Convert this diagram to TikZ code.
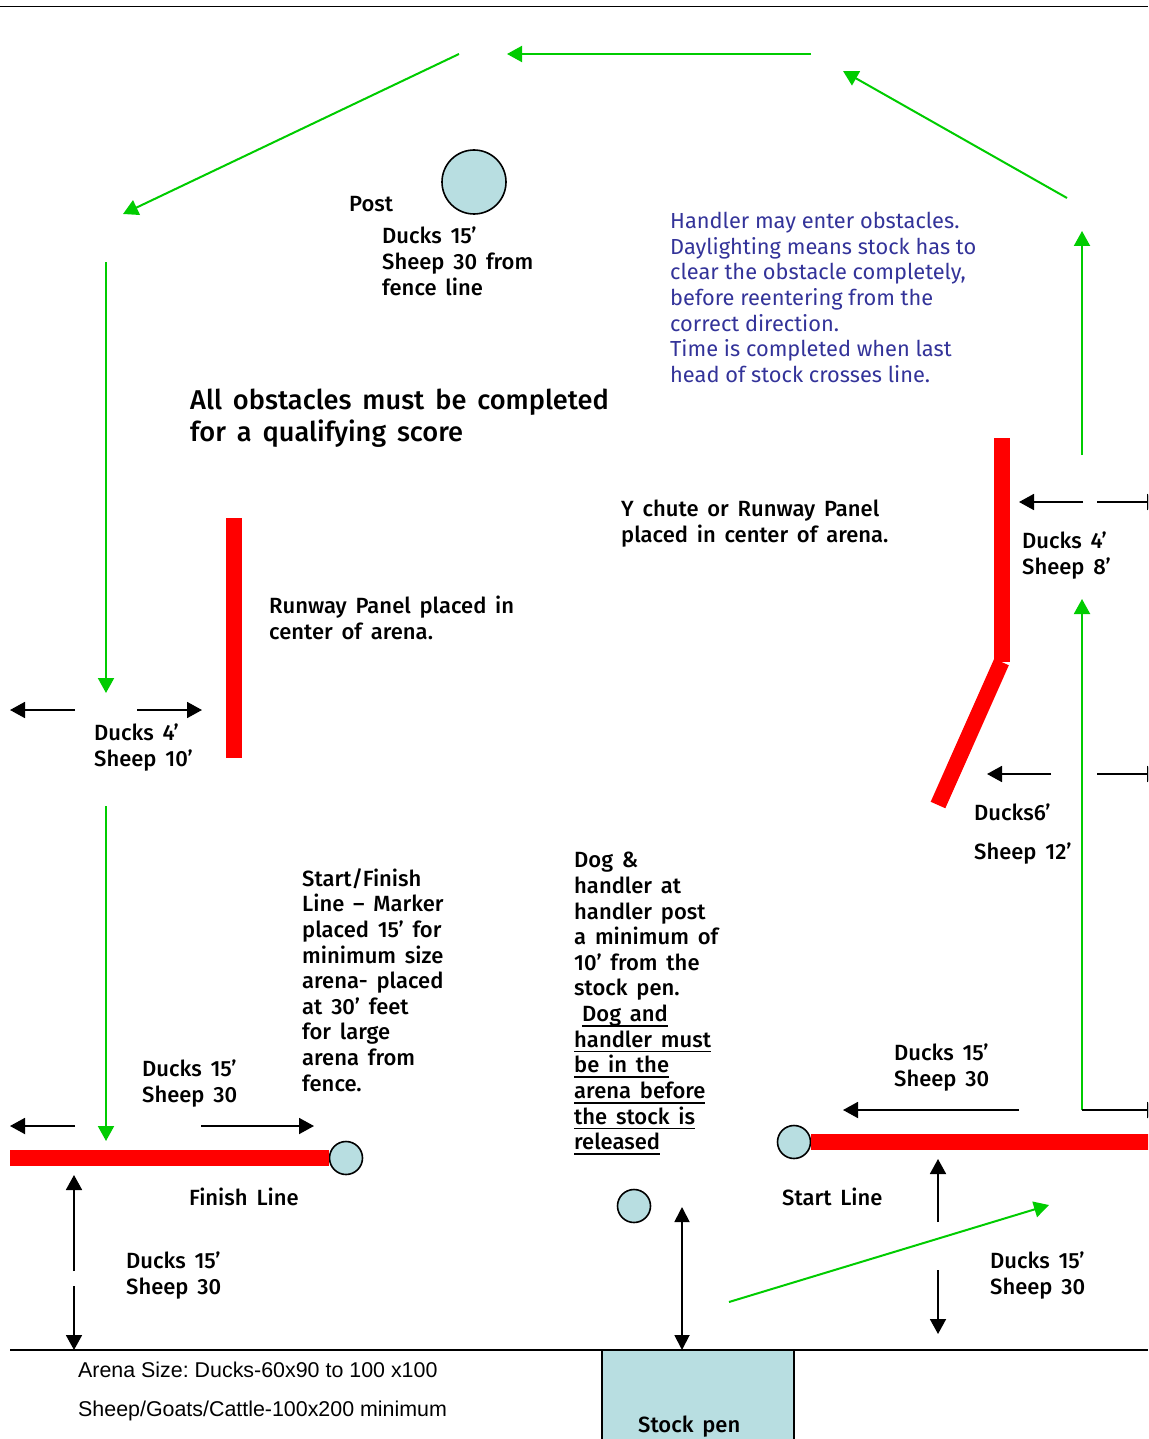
\documentclass[tikz,border=0pt]{standalone}
\usepackage{fontspec}
\setmainfont{Fira Sans}[UprightFont={* Medium},WordSpace=1.6]
\newfontfamily\bluefont{Fira Sans}
\newfontfamily\arialfont{Liberation Sans}
\usetikzlibrary{arrows.meta, positioning}
\definecolor{pondblue}{HTML}{B8DEE1}
\definecolor{lapgreen}{HTML}{00CC00}
\definecolor{notesblue}{HTML}{333399}
\newlength{\rulelen}
\newcommand{\ruleline}[1]{\settowidth{\rulelen}{#1}#1\hspace{-\rulelen}\rule[-5.2pt]{\rulelen}{1.8pt}}
\tikzset{
  greenarrow/.style={draw=lapgreen, line width=2pt, -{Triangle[length=15pt,width=16pt]}},
  blackarrow/.style={draw=black, line width=1.8pt, -{Triangle[length=15pt,width=16pt]}},
  twoarrow/.style={draw=black, line width=1.8pt, {Triangle[length=15pt,width=15pt]}-{Triangle[length=15pt,width=15pt]}},
  redbar/.style={draw=red, line width=16pt},
  markerpost/.style={circle, draw=black, line width=1.6pt, fill=pondblue, inner sep=0pt},
  txt/.style={anchor=north west, inner sep=0pt, align=left, font=\fontsize{22}{25.65}\selectfont},
  bigtxt/.style={anchor=north west, inner sep=0pt, align=left, font=\fontsize{27.2}{32}\selectfont},
  bluetxt/.style={anchor=north west, inner sep=0pt, align=left, text=notesblue, font=\bluefont\fontsize{21.8}{25.65}\selectfont},
  sizetxt/.style={anchor=north west, inner sep=0pt, align=left, font=\arialfont\frenchspacing\fontsize{21.4}{39}\selectfont}
}
\begin{document}
\begin{tikzpicture}[x=1pt, y=-1pt]
  \clip (0,0) rectangle (1148,1439);
  % fences
  \coordinate (topleft) at (0,6.5);
  \coordinate (topright) at (1148,6.5);
  \draw[line width=1pt] (topleft) -- (topright);
  \node[rectangle, draw=black, line width=1.8pt, outer sep=0pt, fill=pondblue, minimum width=192pt, minimum height=110pt, anchor=north west] (stockpen) at (602,1350) {};
  \coordinate (fenceleft) at (10,1350);
  \coordinate (fenceright) at (1148,1350);
  \draw[line width=1.8pt] (fenceleft) -- (fenceright);

  % posts
  \node[markerpost, minimum size=64pt] (centerpost) at (474,182) {};
  \node[markerpost, minimum size=33pt] (finishpost) at (346,1158) {};
  \node[markerpost, minimum size=33pt] (startpost) at (794,1142) {};
  \node[markerpost, minimum size=33pt] (handlerpost) at (634,1206) {};

  % panels
  \coordinate (finishend) at (10,1158);
  \coordinate (startend) at (1160,1142);
  \draw[redbar] (finishend) -- (finishpost);
  \draw[redbar] (startpost) -- (startend);
  \coordinate (runwaytop) at (234,518);
  \coordinate (runwaybot) at (234,758);
  \draw[redbar] (runwaytop) -- (runwaybot);
  \coordinate (chutetop) at (1002,438);
  \coordinate (chutemid) at (1002,662);
  \coordinate (chutebend) at (1001.5,662);
  \coordinate (chutebot) at (938,805);
  \draw[redbar] (chutetop) -- (chutemid);
  \draw[redbar] (chutebend) -- (chutebot);

  % course
  \coordinate (g1a) at (729,1302);  \coordinate (g1b) at (1049,1205);
  \coordinate (g2a) at (1082,1110); \coordinate (g2b) at (1082,599);
  \coordinate (g3a) at (1082,455);  \coordinate (g3b) at (1082,231);
  \coordinate (g4a) at (1067,198);  \coordinate (g4b) at (843,71);
  \coordinate (g5a) at (811,54);    \coordinate (g5b) at (507,54);
  \coordinate (g6a) at (459,54);    \coordinate (g6b) at (123,214);
  \coordinate (g7a) at (106,262);   \coordinate (g7b) at (106,693);
  \coordinate (g8a) at (106,806);   \coordinate (g8b) at (106,1141);
  \foreach \i in {1,...,8}
    \draw[greenarrow] (g\i a) -- (g\i b);

  % distances
  \coordinate (b1a) at (75,710);    \coordinate (b1b) at (10,710);
  \coordinate (b2a) at (137,710);   \coordinate (b2b) at (202,710);
  \coordinate (b3a) at (1083,502);  \coordinate (b3b) at (1019,502);
  \coordinate (b4a) at (1097,502);  \coordinate (b4b) at (1162,502);
  \coordinate (b5a) at (1051,774);  \coordinate (b5b) at (987,774);
  \coordinate (b6a) at (1097,774);  \coordinate (b6b) at (1162,774);
  \coordinate (b7a) at (75,1126);   \coordinate (b7b) at (10,1126);
  \coordinate (b8a) at (201,1126);  \coordinate (b8b) at (314,1126);
  \coordinate (b9a) at (1019,1110); \coordinate (b9b) at (843,1110);
  \coordinate (b10a) at (1082,1110); \coordinate (b10b) at (1162,1110);
  \coordinate (b11a) at (74,1271);  \coordinate (b11b) at (74,1175);
  \coordinate (b12a) at (74,1286);  \coordinate (b12b) at (74,1350);
  \coordinate (b13a) at (938,1222); \coordinate (b13b) at (938,1159);
  \coordinate (b14a) at (938,1270); \coordinate (b14b) at (938,1334);
  \foreach \i in {1,...,14}
    \draw[blackarrow] (b\i a) -- (b\i b);
  \coordinate (penup) at (682,1207);
  \coordinate (pendown) at (682,1350);
  \draw[twoarrow] (penup) -- (pendown);

  % labels
  \node[txt] (postlabel) at (349,196) {Post};
  \node[txt] (postdist) at (382,227) {Ducks 15’\\Sheep 30 from\\fence line};
  \node[bigtxt] (qualify) at (190,389) {All obstacles must be completed\\for a qualifying score};
  \node[bluetxt] (handlernote) at (670,212) {Handler may enter obstacles.\\Daylighting means stock has to\\clear the obstacle completely,\\before reentering from the\\correct direction.\\Time is completed when last\\head of stock crosses line.};
  \node[txt] (chutelabel) at (621,500) {Y chute or Runway Panel\\placed in center of arena.};
  \node[txt] (runwaylabel) at (269,596) {Runway Panel placed in\\center of arena.};
  \node[txt] (chutedist) at (1022,532) {Ducks 4’\\Sheep 8’};
  \node[txt] (runwaydist) at (94,724) {Ducks 4’\\Sheep 10’};
  \node[txt] (bendduck) at (974,804) {Ducks6’};
  \node[txt] (bendsheep) at (974,843) {Sheep 12’};
  \node[txt] (startfinish) at (302,868) {Start/Finish\\Line – Marker\\placed 15’ for\\minimum size\\arena- placed\\at 30’ feet\\for large\\arena from\\fence.};
  \node[txt] (dognote) at (574,852) {Dog \&\\handler at\\handler post\\a minimum of\\10’ from the\\stock pen.\\\hspace*{8pt}\ruleline{Dog and}\\\ruleline{handler must}\\\ruleline{be in the}\\\ruleline{arena before}\\\ruleline{the stock is}\\\ruleline{released}};
  \node[txt] (finishdist) at (142,1060) {Ducks 15’\\Sheep 30};
  \node[txt] (startdist) at (894,1044) {Ducks 15’\\Sheep 30};
  \node[txt] (fencedistl) at (126,1252) {Ducks 15’\\Sheep 30};
  \node[txt] (fencedistr) at (990,1252) {Ducks 15’\\Sheep 30};
  \node[txt] (finishlabel) at (189,1188) {Finish Line};
  \node[txt] (startlabel) at (782,1188) {Start Line};
  \node[txt] (penlabel) at (638,1416) {Stock pen};
  \node[sizetxt] (arenasize) at (78,1362) {Arena Size: Ducks-60x90 to 100 x100\\Sheep/Goats/Cattle-100x200 minimum};
\end{tikzpicture}
\end{document}
